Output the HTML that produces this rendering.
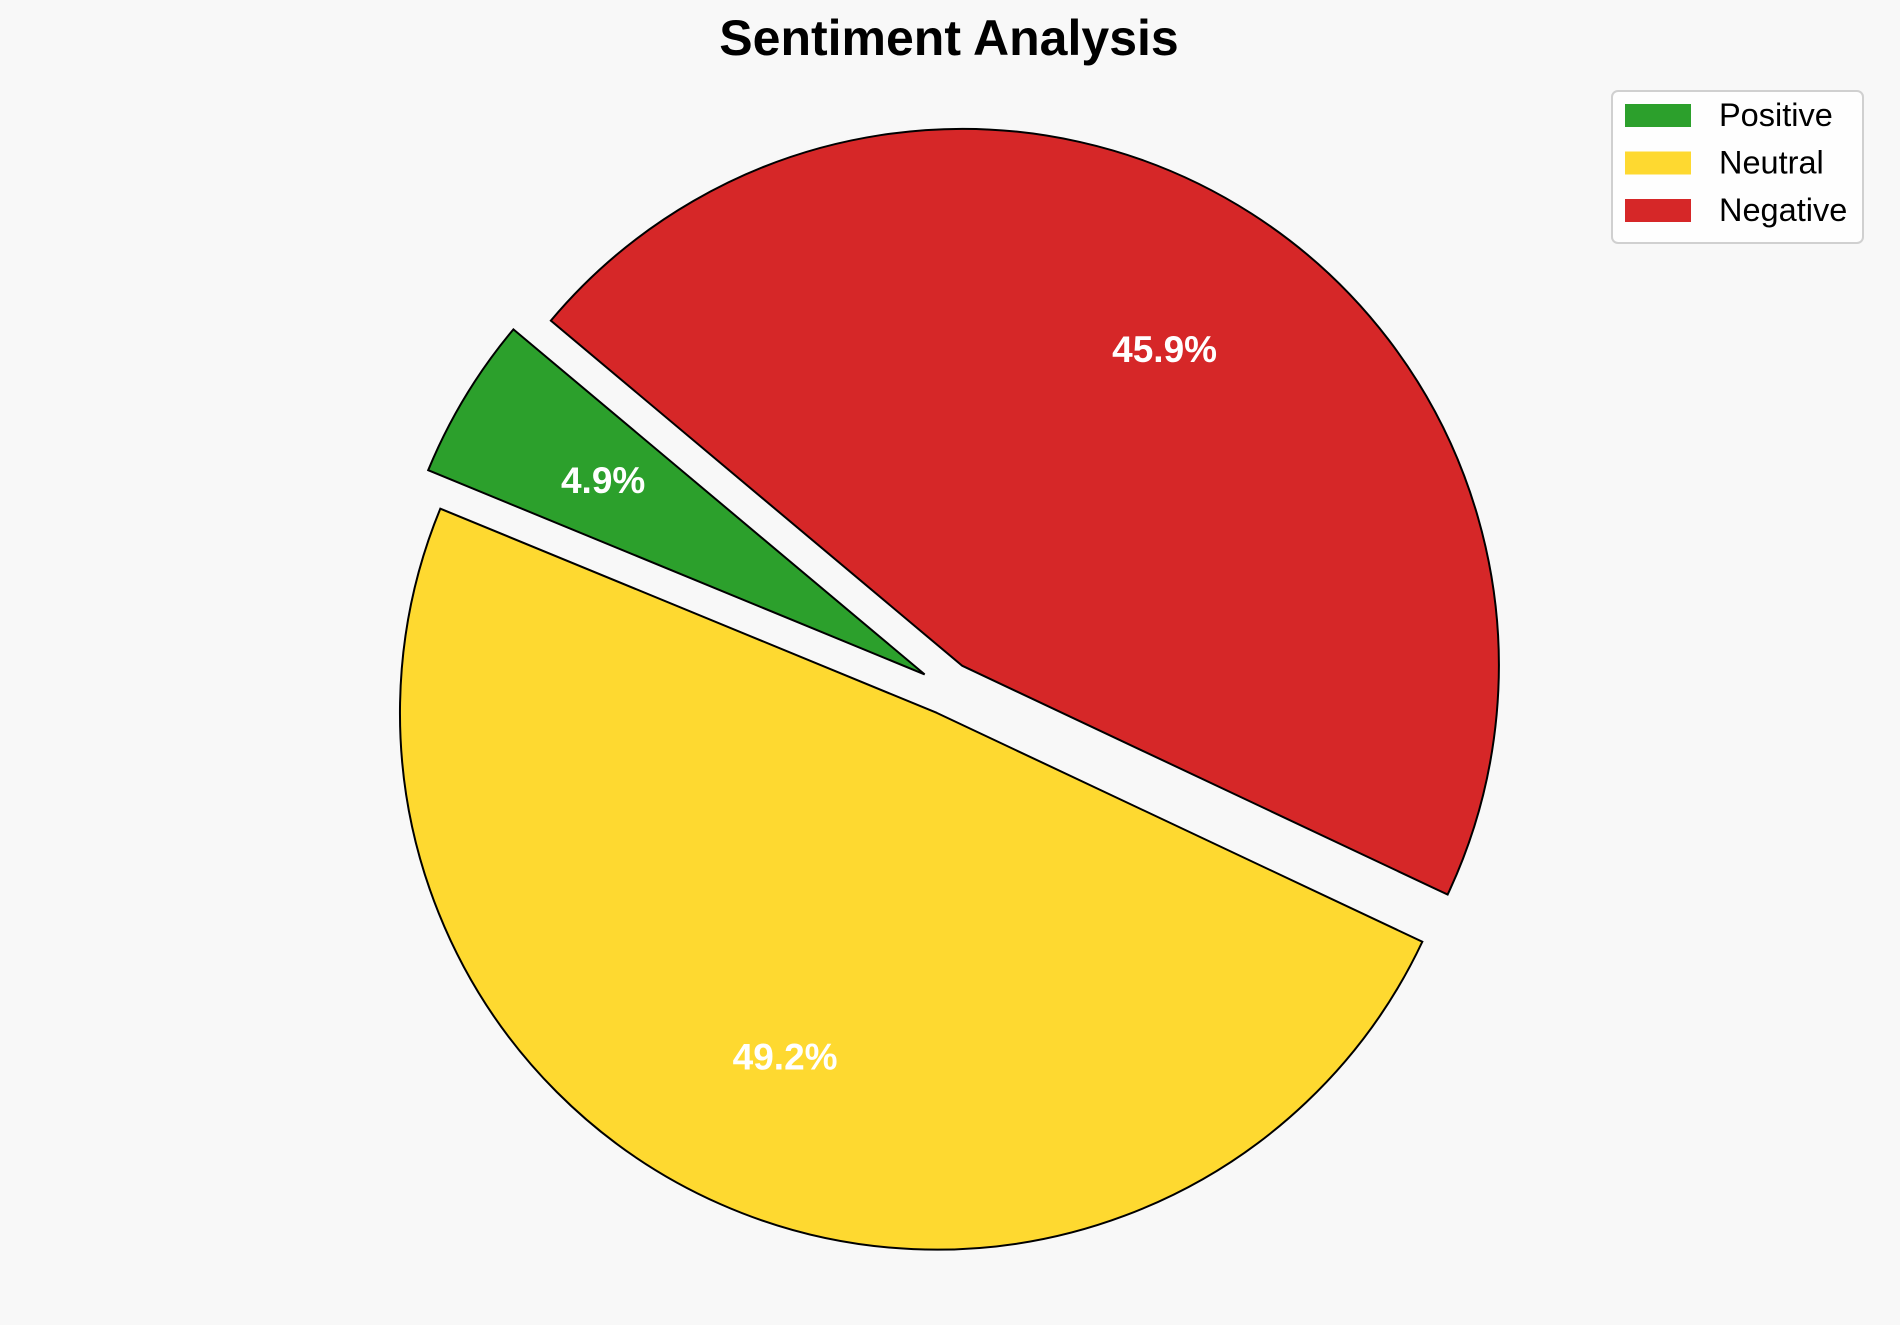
<!DOCTYPE html>
<html><head><meta charset="utf-8"><style>
html,body{margin:0;padding:0;background:#f8f8f8;}
svg{display:block;font-family:"Liberation Sans",Arial,sans-serif;}
</style></head><body>
<svg id="chart" width="1900" height="1325" viewBox="0 0 1900 1325">
<rect width="1900" height="1325" fill="#f8f8f8"/>
<text x="949" y="55" text-anchor="middle" font-size="50" font-weight="bold" fill="#000">Sentiment Analysis</text>
<g id="pie"></g>
<g>
<rect x="1612" y="91" width="251" height="152" rx="6" fill="#fff" fill-opacity="0.8" stroke="#d0d0d0" stroke-width="2"/>
<g id="legend-items"></g>
</g>
</svg>
<script>
const categories = ["Positive","Neutral","Negative"];
const values = [4.9, 49.2, 45.9];
const colors = ["#2ca02c","#fed930","#d62728"];
const explode = [0.05,0.05,0.05];
const startAngle = 140;
const cx = 947.6, cy = 688.3, R = 536.8, pctDist = 0.7;
const ns = "http://www.w3.org/2000/svg";
const pie = document.getElementById('pie');
const total = values.reduce((a,b)=>a+b,0);
let a0 = startAngle;
function pt(x,y,ang,r){const t=ang*Math.PI/180;return [x+r*Math.cos(t), y-r*Math.sin(t)];}
values.forEach((v,i)=>{
  const sweep = v/total*360, a1=a0+sweep, mid=a0+sweep/2;
  const [ox,oy] = pt(cx,cy,mid,explode[i]*R);
  const [x0,y0] = pt(ox,oy,a0,R), [x1,y1]=pt(ox,oy,a1,R);
  const p = document.createElementNS(ns,'path');
  p.setAttribute('d',`M${ox},${oy} L${x0},${y0} A${R},${R} 0 ${sweep>180?1:0} 0 ${x1},${y1} Z`);
  p.setAttribute('fill',colors[i]);p.setAttribute('stroke','#000');p.setAttribute('stroke-width','2');
  
  
  pie.appendChild(p);
  const [lx,ly] = pt(ox,oy,mid,pctDist*R);
  const t = document.createElementNS(ns,'text');
  t.setAttribute('x',lx);t.setAttribute('y',ly+13);t.setAttribute('text-anchor','middle');
  t.setAttribute('font-size','37');t.setAttribute('font-weight','bold');t.setAttribute('fill','#fff');
  t.textContent = (v/total*100).toFixed(1)+'%';
  
  
  pie.appendChild(t);
  a0 = a1;
});
const lg = document.getElementById('legend-items');
categories.forEach((c,i)=>{
  const y = 104 + i*47.5;
  const r = document.createElementNS(ns,'rect');
  r.setAttribute('x',1625);r.setAttribute('y',y);r.setAttribute('width',66);r.setAttribute('height',23);r.setAttribute('fill',colors[i]);
  
  
  lg.appendChild(r);
  const t = document.createElementNS(ns,'text');
  t.setAttribute('x',1719);t.setAttribute('y',y+22);t.setAttribute('font-size','32.5');t.setAttribute('fill','#000');
  t.textContent=c;
  
  
  lg.appendChild(t);
});
</script>
</body></html>
